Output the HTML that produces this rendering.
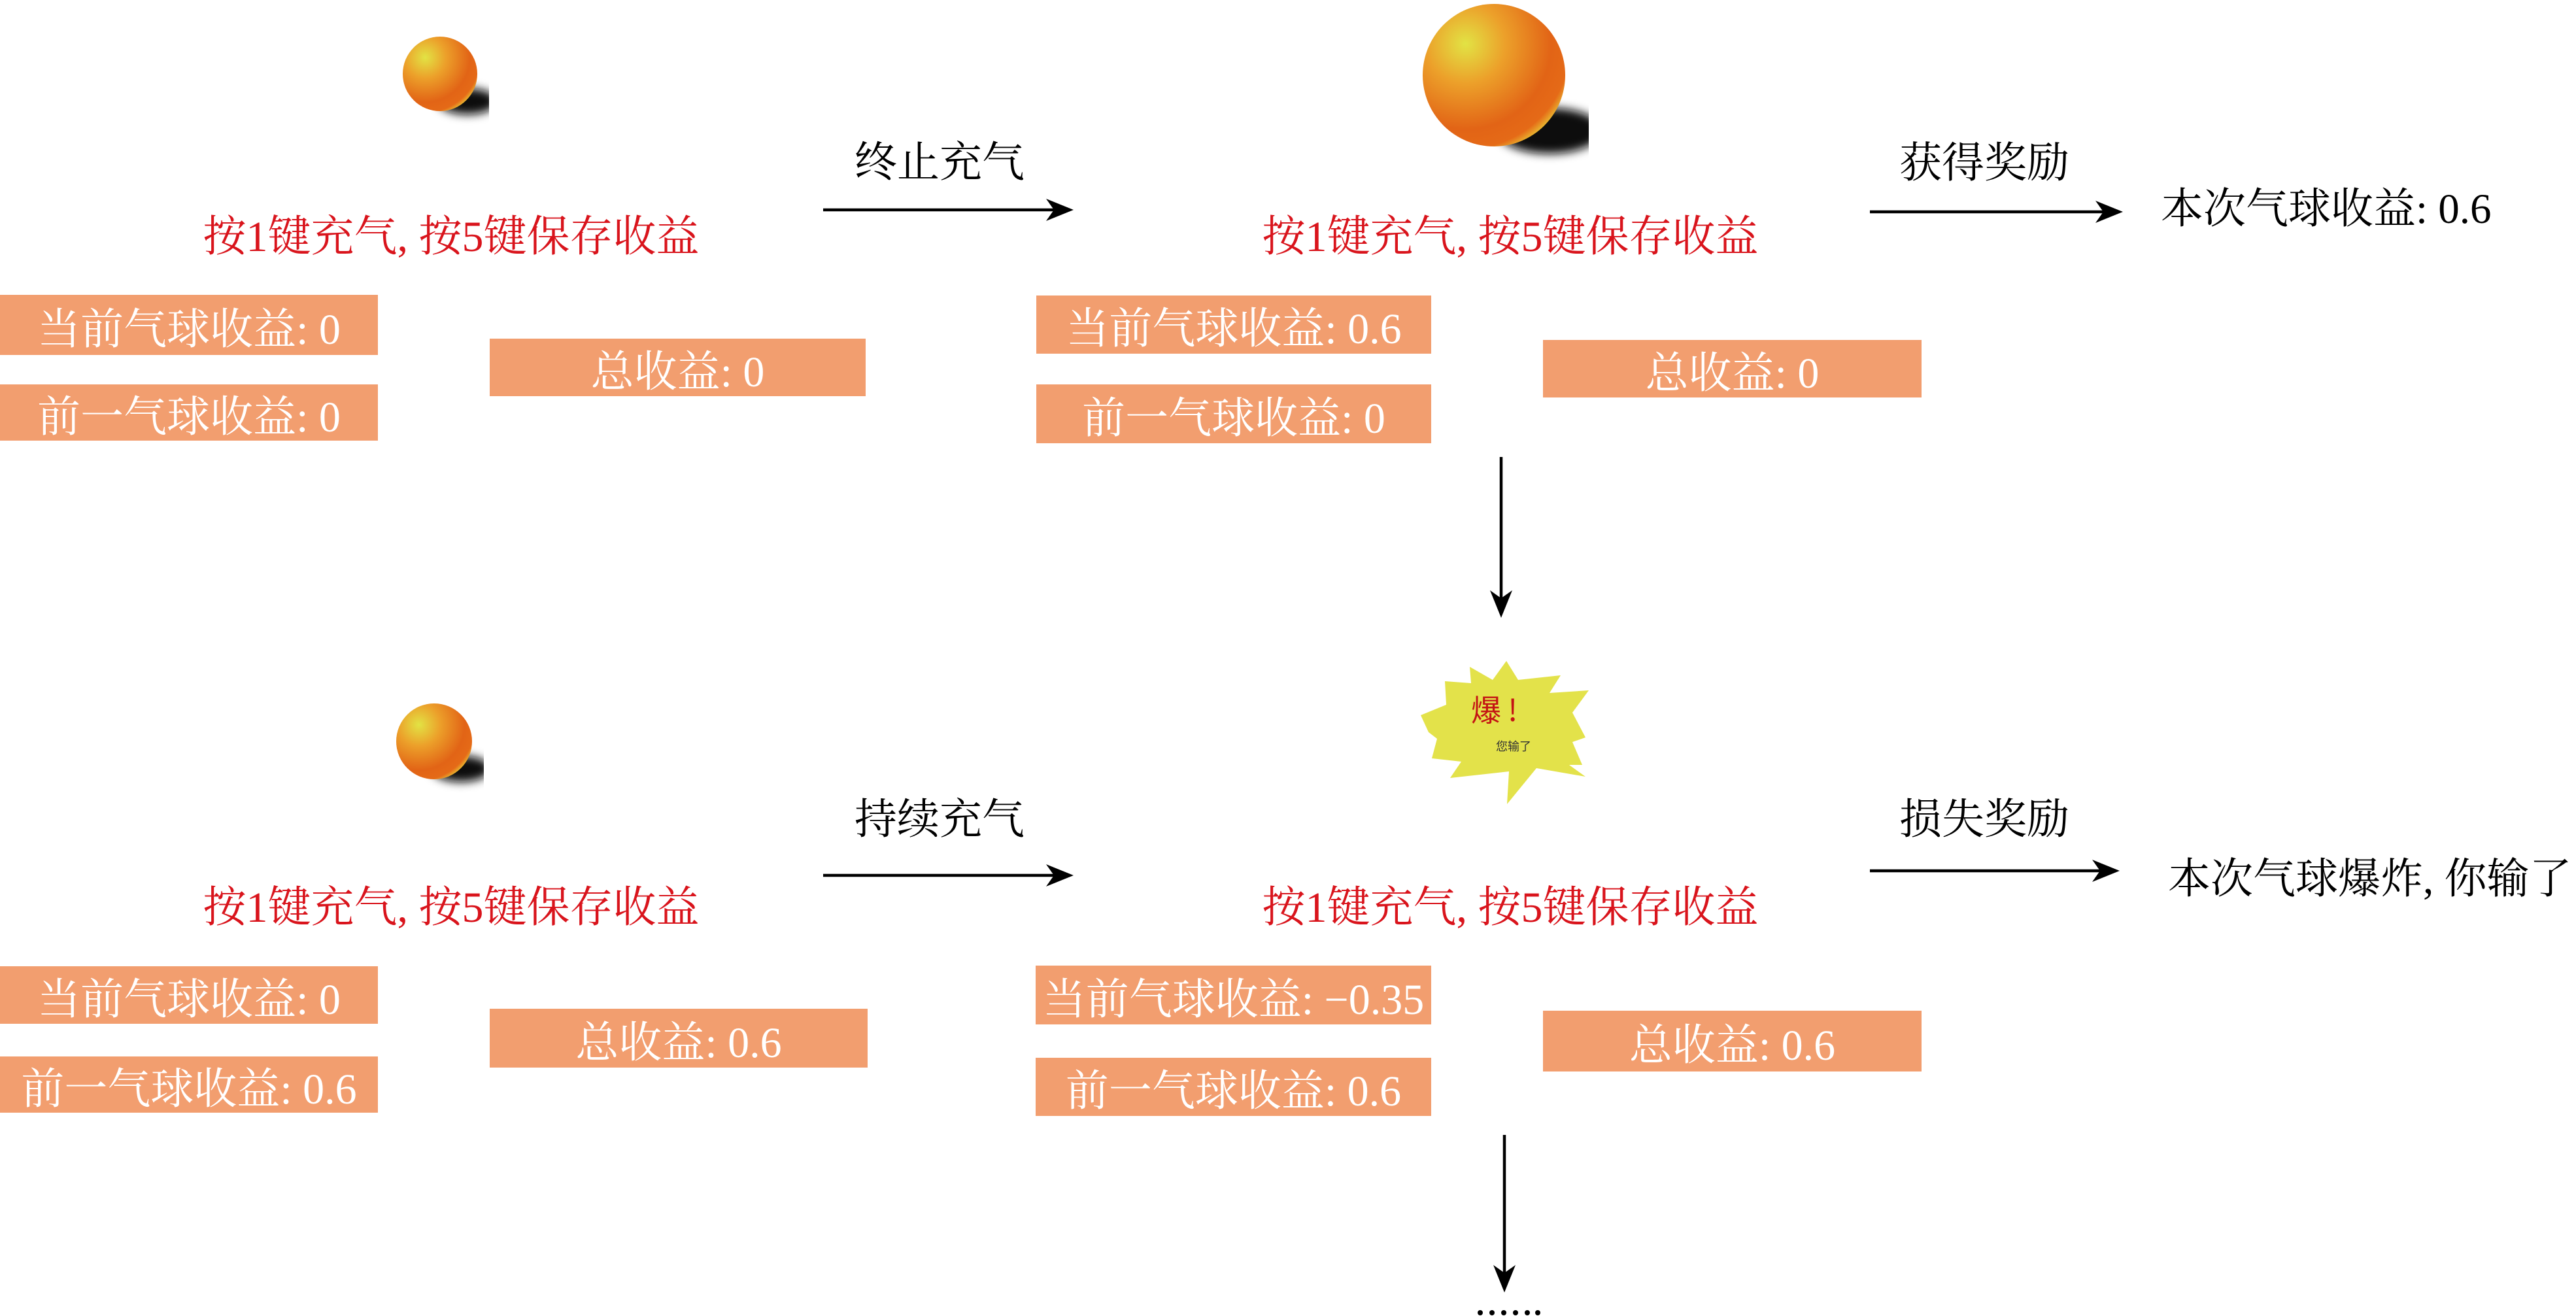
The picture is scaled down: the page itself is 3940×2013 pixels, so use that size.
<!DOCTYPE html>
<html><head><meta charset="utf-8"><style>
html,body{margin:0;padding:0;background:#fff;}
body{width:3940px;height:2013px;position:relative;overflow:hidden;font-family:"Liberation Serif","Noto Serif CJK SC",serif;}
.t{position:absolute;white-space:nowrap;line-height:1;}
.red{color:#d9141c;font-size:66px;transform:translateX(-50%);}
.blk{color:#000;font-size:65px;}
.box{position:absolute;background:#f29e6f;color:#fff;font-size:66px;display:flex;align-items:center;justify-content:center;white-space:nowrap;}
svg{position:absolute;left:0;top:0;}
</style></head><body>
<svg width="3940" height="2013" viewBox="0 0 3940 2013">
<defs>
<radialGradient id="g" cx="0.3" cy="0.28" r="0.8">
<stop offset="0" stop-color="#e2e344"/><stop offset="0.35" stop-color="#eca02a"/><stop offset="0.75" stop-color="#e26416"/><stop offset="0.92" stop-color="#e56a17"/><stop offset="1" stop-color="#e8b730"/>
</radialGradient>
<filter id="b" x="-50%" y="-50%" width="200%" height="200%"><feGaussianBlur stdDeviation="7"/></filter>
<clipPath id="c1"><rect x="0" y="0" width="748" height="2013"/></clipPath>
<clipPath id="c2"><rect x="0" y="0" width="2430" height="2013"/></clipPath>
<clipPath id="c3"><rect x="0" y="0" width="740" height="2013"/></clipPath>
</defs>
<!-- shadows -->
<ellipse cx="715" cy="155" rx="45" ry="20" fill="#111" filter="url(#b)" clip-path="url(#c1)"/>
<ellipse cx="2370" cy="200" rx="80" ry="35" fill="#111" filter="url(#b)" clip-path="url(#c2)"/>
<ellipse cx="705" cy="1176" rx="45" ry="20" fill="#111" filter="url(#b)" clip-path="url(#c3)"/>
<circle cx="673" cy="113" r="57" fill="url(#g)"/>
<circle cx="2285" cy="115" r="109" fill="url(#g)"/>
<circle cx="664" cy="1134" r="58" fill="url(#g)"/>
<!-- explosion -->
<polygon fill="#e3e24a" points="2173,1094 2212,1078 2210,1042 2250,1045 2248,1020 2283,1040 2304,1011 2322,1040 2387,1033 2370,1060 2430,1056 2405,1090 2425,1128 2405,1135 2420,1170 2400,1170 2425,1188 2350,1175 2305,1230 2308,1180 2218,1190 2235,1165 2190,1160 2198,1130 2185,1120"/>
<text x="2250" y="1103" font-size="46" fill="#c41414" font-family="Noto Sans CJK SC, sans-serif">爆 !</text>
<text x="2288" y="1148" font-size="18" fill="#333" font-family="Noto Sans CJK SC, sans-serif">您输了</text>
<!-- arrows -->
<g stroke="#000" stroke-width="4.5">
<line x1="1259" y1="321" x2="1615" y2="321"/>
<line x1="2860" y1="324" x2="3220" y2="324"/>
<line x1="1259" y1="1339" x2="1615" y2="1339"/>
<line x1="2860" y1="1332" x2="3215" y2="1332"/>
<line x1="2296" y1="699" x2="2296" y2="920"/>
<line x1="2301" y1="1736" x2="2301" y2="1955"/>
</g>
<g fill="#000">
<polygon points="1642,321 1600,304 1612,321 1600,338"/>
<polygon points="3247,324 3205,307 3217,324 3205,341"/>
<polygon points="1642,1339 1600,1322 1612,1339 1600,1356"/>
<polygon points="3242,1332 3200,1315 3212,1332 3200,1349"/>
<polygon points="2296,945 2279,903 2296,915 2313,903"/>
<polygon points="2301,1977 2284,1935 2301,1947 2318,1935"/>
<circle cx="2264" cy="2008" r="4"/><circle cx="2282" cy="2008" r="4"/><circle cx="2300" cy="2008" r="4"/><circle cx="2318" cy="2008" r="4"/><circle cx="2336" cy="2008" r="4"/><circle cx="2352" cy="2008" r="4"/>
</g>
</svg>

<div class="t red" style="left:690px;top:330px;">按1键充气, 按5键保存收益</div>
<div class="t red" style="left:2310px;top:330px;">按1键充气, 按5键保存收益</div>
<div class="t red" style="left:690px;top:1356px;">按1键充气, 按5键保存收益</div>
<div class="t red" style="left:2310px;top:1356px;">按1键充气, 按5键保存收益</div>

<div class="t blk" style="left:1307px;top:217px;">终止充气</div>
<div class="t blk" style="left:2905px;top:218px;">获得奖励</div>
<div class="t blk" style="left:3305px;top:288px;">本次气球收益: 0.6</div>
<div class="t blk" style="left:1307px;top:1222px;">持续充气</div>
<div class="t blk" style="left:2905px;top:1222px;">损失奖励</div>
<div class="t blk" style="left:3316px;top:1313px;">本次气球爆炸, 你输了</div>

<div class="box" style="left:0;top:451px;width:578px;height:92px;">当前气球收益: 0</div>
<div class="box" style="left:0;top:588px;width:578px;height:86px;">前一气球收益: 0</div>
<div class="box" style="left:749px;top:518px;width:575px;height:88px;">总收益: 0</div>
<div class="box" style="left:1585px;top:452px;width:604px;height:89px;">当前气球收益: 0.6</div>
<div class="box" style="left:1585px;top:588px;width:604px;height:90px;">前一气球收益: 0</div>
<div class="box" style="left:2360px;top:520px;width:579px;height:88px;">总收益: 0</div>

<div class="box" style="left:0;top:1478px;width:578px;height:88px;">当前气球收益: 0</div>
<div class="box" style="left:0;top:1616px;width:578px;height:86px;">前一气球收益: 0.6</div>
<div class="box" style="left:749px;top:1543px;width:578px;height:90px;">总收益: 0.6</div>
<div class="box" style="left:1584px;top:1477px;width:605px;height:90px;">当前气球收益: −0.35</div>
<div class="box" style="left:1584px;top:1618px;width:605px;height:89px;">前一气球收益: 0.6</div>
<div class="box" style="left:2360px;top:1546px;width:579px;height:93px;">总收益: 0.6</div>
</body></html>
